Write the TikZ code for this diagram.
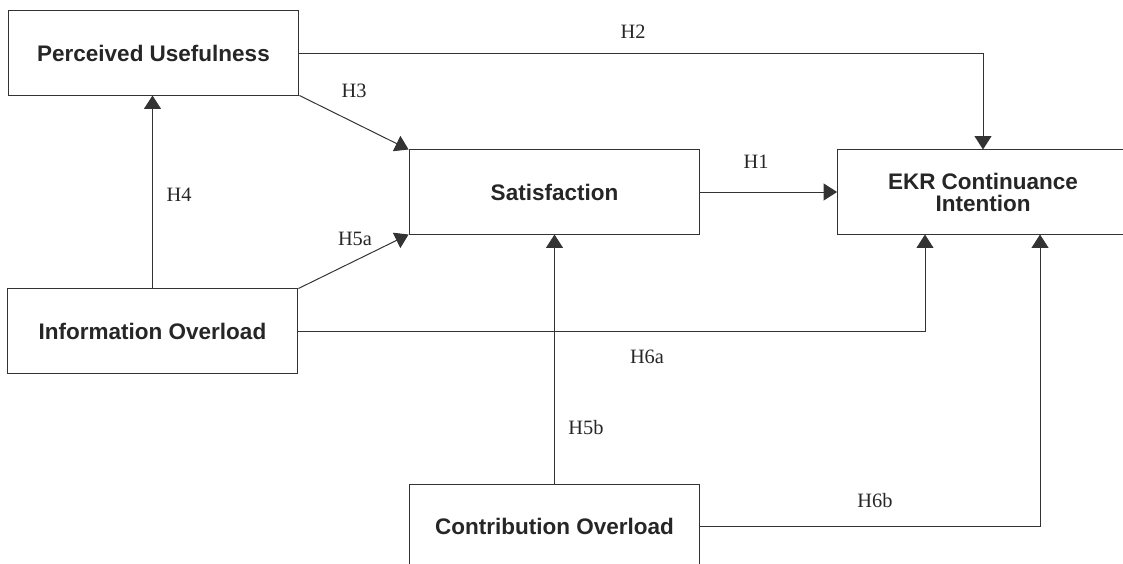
\documentclass[tikz,border=0pt]{standalone}
\usepackage{fontspec}
\setmainfont{Liberation Serif}
\setsansfont{Liberation Sans}
\usepackage{xcolor}
\usepackage{tikz}
\usetikzlibrary{positioning, arrows.meta, calc}
\definecolor{linegray}{HTML}{333333}
\definecolor{textgray}{HTML}{262626}
\tikzset{
    factor/.style={draw=linegray, line width=0.7pt, fill=white, text=textgray,
        minimum width=7.27cm, minimum height=2.1cm, inner sep=0pt, align=center,
        font=\sffamily\bfseries\fontsize{16}{15.6}\selectfont},
    hyp/.style={text=textgray, inner sep=0pt, font=\fontsize{14.5}{16}\selectfont},
    path/.style={draw=linegray, line width=0.7pt,
        -{Triangle[length=9.5pt, width=12pt]}}
}
\begin{document}
\begin{tikzpicture}[x=0.025cm, y=-0.025cm]
    \useasboundingbox (0,0) rectangle (1123,564);
    \clip (0,0) rectangle (1123,564);

    % constructs
    \node[factor] (pu) at (153.5,53) {Perceived Usefulness};
    \node[factor] (sat) at (554.5,192) {Satisfaction};
    \node[factor] (ekr) at (983,192) {EKR Continuance\\Intention};
    \node[factor] (io) at (152.5,331) {Information Overload};
    \node[factor] (co) at (554.5,526) {Contribution Overload};

    % hypothesised paths
    \draw[path] (io.north) -- (io.north |- pu.south);
    \draw[path] (pu.south east) -- (sat.north west);
    \draw[path] (io.north east) -- (sat.south west);
    \draw[path] (pu.east) -| (ekr.north);
    \draw[path] (sat.east) -- (ekr.west);
    \draw[path] (io.east) -| ([xshift=-1.45cm]ekr.south);
    \draw[path] (co.north) -- (sat.south);
    \draw[path] (co.east) -| ([xshift=1.425cm]ekr.south);

    % hypothesis labels
    \foreach \name/\x/\y/\txt in {
        h1/756/162/H1,
        h2/633/32/H2,
        h3/354/91/H3,
        h4/179/195/H4,
        h5a/355/239/H5a,
        h5b/586/428/H5b,
        h6a/647/357/H6a,
        h6b/875/501/H6b}{

        \node[hyp] (\name) at (\x,\y) {\txt};
    }
\end{tikzpicture}
\end{document}
